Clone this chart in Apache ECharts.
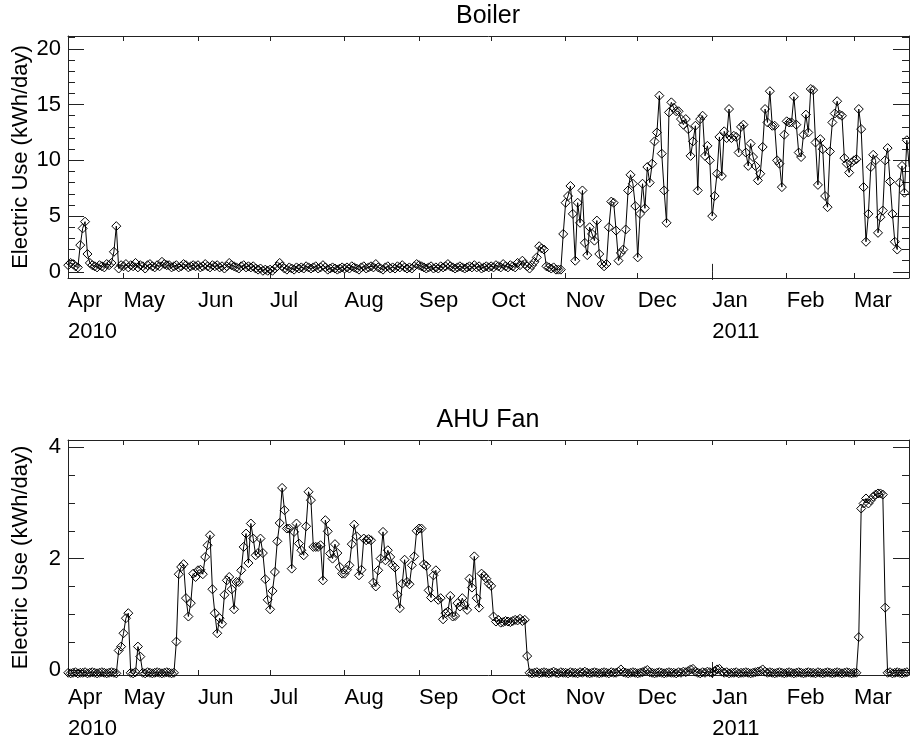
<!DOCTYPE html>
<html>
<head>
<meta charset="utf-8">
<title>Boiler / AHU Fan electric use</title>
<script src="https://cdn.jsdelivr.net/npm/echarts@6/dist/echarts.min.js"></script>
<style>
  html, body { margin: 0; padding: 0; background: #fff; }
  #chart { width: 910px; height: 740px; }
</style>
</head>
<body>
<div id="chart"></div>
<script>
// x is counted in days from 2010-04-01, first reading is 2010-04-08
const firstDay = 7
const xMin = 6.9
const xMax = 356.9
const monthStarts = [0, 30, 61, 91, 122, 153, 183, 214, 244, 275, 306, 334]
const monthNames = ['Apr', 'May', 'Jun', 'Jul', 'Aug', 'Sep', 'Oct', 'Nov', 'Dec', 'Jan', 'Feb', 'Mar']
const yearLabels = { Apr: '2010', Jan: '2011' }

const boilerTicks = [0, 5, 10, 15, 20]
const boilerMinor = [1, 2, 3, 4, 6, 7, 8, 9, 11, 12, 13, 14, 16, 17, 18, 19, 21]
const ahuTicks = [0, 2, 4]
const ahuMinor = [0.5, 1, 1.5, 2.5, 3, 3.5]

// Boiler, kWh/day
const boilerApr = [0.6, 0.8, 0.7, 0.5, 0.4, 2.4, 3.9, 4.5, 1.6, 0.8, 0.6, 0.5, 0.4, 0.6, 0.5, 0.4, 0.7, 0.6, 0.8, 1.8, 4.1, 0.3, 0.6]
const boilerMay = [0.5, 0.7, 0.4, 0.6, 0.5, 0.8, 0.4, 0.6, 0.5, 0.3, 0.6, 0.7, 0.5, 0.4, 0.6, 0.5, 0.9, 0.7, 0.6, 0.6, 0.4, 0.5, 0.6, 0.4, 0.5, 0.7, 0.6, 0.4, 0.5, 0.6, 0.5]
const boilerJun = [0.6, 0.4, 0.5, 0.7, 0.5, 0.4, 0.6, 0.5, 0.6, 0.4, 0.5, 0.3, 0.5, 0.8, 0.6, 0.5, 0.4, 0.3, 0.5, 0.6, 0.4, 0.5, 0.4, 0.5, 0.3, 0.2, 0.3, 0.1, 0.2, 0.1]
const boilerJul = [0.2, 0.1, 0.3, 0.5, 0.8, 0.5, 0.3, 0.2, 0.4, 0.3, 0.2, 0.4, 0.3, 0.4, 0.3, 0.5, 0.4, 0.3, 0.4, 0.5, 0.3, 0.4, 0.6, 0.4, 0.2, 0.3, 0.4, 0.3, 0.2, 0.3, 0.4]
const boilerAug = [0.3, 0.4, 0.3, 0.5, 0.4, 0.3, 0.2, 0.4, 0.5, 0.3, 0.4, 0.5, 0.4, 0.7, 0.4, 0.3, 0.2, 0.4, 0.5, 0.3, 0.4, 0.3, 0.5, 0.4, 0.6, 0.4, 0.3, 0.4, 0.3, 0.5, 0.7]
const boilerSep = [0.6, 0.5, 0.4, 0.3, 0.4, 0.5, 0.3, 0.4, 0.3, 0.5, 0.4, 0.5, 0.7, 0.5, 0.4, 0.3, 0.4, 0.5, 0.4, 0.3, 0.4, 0.5, 0.4, 0.6, 0.4, 0.5, 0.3, 0.4, 0.5, 0.4]
const boilerOct = [0.5, 0.4, 0.6, 0.5, 0.4, 0.7, 0.5, 0.4, 0.6, 0.5, 0.4, 0.8, 0.6, 1.0, 0.7, 0.5, 0.3, 0.6, 0.9, 1.3, 2.3, 2.1, 2.0, 0.5, 0.4, 0.3, 0.4, 0.2, 0.2, 0.2, 3.4]
const boilerNov = [6.2, 6.8, 7.7, 5.2, 1.0, 6.2, 4.4, 7.3, 2.6, 1.5, 4.0, 3.4, 2.8, 4.6, 1.6, 0.7, 0.5, 0.7, 4.0, 6.3, 6.2, 3.7, 1.0, 1.7, 2.0, 3.8, 7.3, 8.7, 7.9, 5.9]
const boilerDec = [1.3, 5.2, 7.9, 5.7, 9.4, 8.0, 9.7, 11.7, 12.5, 15.8, 10.6, 7.3, 4.4, 14.3, 15.2, 14.7, 14.4, 14.4, 13.7, 13.2, 13.7, 12.8, 10.4, 11.7, 13.1, 7.3, 13.7, 14.0, 10.4, 11.3, 10.0]
const boilerJan = [5.0, 6.8, 8.8, 12.1, 8.6, 12.6, 12.0, 14.6, 12.0, 12.2, 12.1, 10.7, 13.0, 13.2, 10.7, 9.5, 11.5, 10.3, 9.5, 8.2, 8.8, 11.2, 14.6, 13.4, 16.2, 13.1, 13.1, 10.0, 9.7, 7.6, 12.3]
const boilerFeb = [13.5, 13.4, 13.4, 15.7, 13.2, 10.7, 10.3, 12.3, 14.1, 12.5, 16.4, 16.3, 11.6, 7.8, 11.9, 11.0, 6.8, 5.8, 10.8, 13.4, 14.2, 15.3, 14.1, 14.0, 10.2, 9.7, 8.9, 9.8]
const boilerMar = [10.0, 10.1, 14.6, 12.8, 7.6, 2.7, 5.2, 9.4, 10.5, 10.0, 3.5, 4.9, 5.5, 10.0, 11.1, 8.1, 5.2, 2.7, 2.0, 8.0, 9.5, 7.1, 11.8, 9.4]

// AHU fan, kWh/day
const ahuApr = [-0.05, -0.06, -0.05, -0.04, -0.06, -0.05, -0.05, -0.04, -0.06, -0.05, -0.04, -0.05, -0.06, -0.05, -0.04, -0.05, -0.06, -0.05, -0.04, -0.05, -0.06, 0.35, 0.42]
const ahuMay = [0.66, 0.93, 1.02, -0.05, -0.06, -0.04, 0.42, 0.24, -0.05, -0.06, -0.04, -0.05, -0.06, -0.05, -0.04, -0.05, -0.06, -0.05, -0.04, -0.05, -0.06, -0.05, 0.51, 1.72, 1.85, 1.90, 1.29, 0.96, 1.20, 1.73, 1.67]
const ahuJun = [1.79, 1.80, 1.72, 2.03, 2.24, 2.42, 1.45, 1.02, 0.66, 0.93, 0.83, 1.35, 1.61, 1.67, 1.45, 1.09, 1.58, 1.58, 1.79, 2.21, 2.45, 1.92, 2.63, 2.36, 2.06, 2.10, 2.36, 2.10, 1.63, 1.26]
const ahuJul = [1.09, 1.42, 1.76, 2.31, 2.64, 3.27, 2.87, 2.54, 2.54, 1.82, 2.48, 2.63, 2.27, 2.15, 2.06, 2.58, 3.20, 3.05, 2.21, 2.21, 2.21, 2.24, 1.61, 2.69, 2.49, 2.09, 2.00, 2.26, 2.10, 1.85, 1.73]
const ahuAug = [1.73, 1.80, 1.88, 2.26, 2.61, 2.40, 1.70, 1.80, 2.36, 2.33, 2.35, 2.33, 1.57, 1.50, 1.79, 2.00, 2.48, 1.97, 2.15, 2.03, 1.88, 1.84, 1.35, 1.11, 1.55, 1.98, 1.58, 1.54, 1.88, 2.04, 2.50]
const ahuSep = [2.54, 2.54, 1.90, 1.87, 1.43, 1.30, 1.70, 1.79, 1.26, 1.29, 0.91, 1.02, 1.05, 1.33, 0.96, 0.97, 1.20, 1.14, 1.29, 1.17, 1.08, 1.64, 1.48, 2.04, 1.29, 1.12, 1.73, 1.69, 1.64, 1.55]
const ahuOct = [1.51, 0.96, 0.87, 0.90, 0.85, 0.86, 0.88, 0.87, 0.86, 0.88, 0.90, 0.89, 0.92, 0.88, 0.90, 0.25, -0.05, -0.06, -0.05, -0.04, -0.06, -0.05, -0.04, -0.05, -0.06, -0.05, -0.03, -0.05, -0.06, -0.04, -0.05]
const ahuNov = [-0.05, -0.06, -0.04, -0.05, -0.05, -0.06, -0.04, -0.05, -0.03, -0.05, -0.06, -0.05, -0.04, -0.05, -0.06, -0.05, -0.04, -0.05, -0.06, -0.04, -0.05, -0.05, -0.03, 0.01, -0.04, -0.05, -0.06, -0.05, -0.04, -0.05]
const ahuDec = [-0.06, -0.05, -0.04, -0.02, 0.00, -0.04, -0.05, -0.06, -0.05, -0.04, -0.05, -0.06, -0.05, -0.04, -0.05, -0.05, -0.06, -0.04, -0.05, -0.03, -0.04, -0.02, 0.01, 0.02, -0.03, -0.05, -0.06, -0.04, -0.05, -0.03, -0.04]
const ahuJan = [-0.05, -0.02, 0.01, 0.02, -0.03, -0.05, -0.04, -0.06, -0.05, -0.05, -0.04, -0.06, -0.05, -0.05, -0.04, -0.05, -0.06, -0.05, -0.04, -0.03, -0.02, 0.01, -0.03, -0.05, -0.04, -0.05, -0.06, -0.05, -0.04, -0.05, -0.06]
const ahuFeb = [-0.05, -0.04, -0.05, -0.06, -0.05, -0.04, -0.05, -0.06, -0.05, -0.04, -0.05, -0.05, -0.06, -0.04, -0.05, -0.06, -0.05, -0.04, -0.05, -0.06, -0.05, -0.04, -0.05, -0.06, -0.05, -0.04, -0.05, -0.06]
const ahuMar = [-0.05, -0.05, 0.59, 2.90, 2.99, 3.08, 2.99, 3.05, 3.11, 3.15, 3.17, 3.17, 3.15, 1.12, -0.05, -0.04, -0.06, -0.05, -0.04, -0.05, -0.06, -0.05, -0.04, -0.05]

const boilerDays = [boilerApr, boilerMay, boilerJun, boilerJul, boilerAug, boilerSep, boilerOct, boilerNov, boilerDec, boilerJan, boilerFeb, boilerMar]
const ahuDays = [ahuApr, ahuMay, ahuJun, ahuJul, ahuAug, ahuSep, ahuOct, ahuNov, ahuDec, ahuJan, ahuFeb, ahuMar]

const font = { fontFamily: 'Liberation Sans', fontSize: 22, color: '#000' }
const axisColor = { color: '#222', width: 1 }

function toPoints(months) {
  return [].concat(...months).map((v, i) => [firstDay + i, v])
}

function monthLabel(value) {
  let i = monthStarts.length - 1
  while (i > 0 && monthStarts[i] > value + 0.01) i--
  const name = monthNames[i]
  return yearLabels[name] ? `${name}\n${yearLabels[name]}` : name
}

// bottom axis with labels, top mirror, plus the longer year ticks
function xAxes(gridIndex) {
  const base = {
    type: 'value', gridIndex, min: xMin, max: xMax,
    axisLine: { show: true, onZero: false, lineStyle: axisColor },
    splitLine: { show: false }
  }
  const monthTicks = monthStarts.slice(1)
  const labelDays = [xMin].concat(monthTicks)
  return [
    Object.assign({}, base, {
      position: 'bottom',
      axisTick: { inside: true, length: 5, customValues: monthTicks, lineStyle: axisColor },
      axisLabel: Object.assign({ customValues: labelDays, formatter: monthLabel, align: 'left', margin: 7, lineHeight: 31, verticalAlign: 'top' }, font)
    }),
    Object.assign({}, base, {
      position: 'top',
      axisTick: { inside: true, length: 5, customValues: monthTicks, lineStyle: axisColor },
      axisLabel: { show: false }
    }),
    Object.assign({}, base, {
      position: 'bottom', axisLine: { show: false },
      axisTick: { inside: true, length: 8, customValues: [275], lineStyle: axisColor },
      axisLabel: { show: false }
    }),
    Object.assign({}, base, {
      position: 'top', axisLine: { show: false },
      axisTick: { inside: true, length: 8, customValues: [275], lineStyle: axisColor },
      axisLabel: { show: false }
    })
  ]
}

// left axis with labels and name, right mirror; minor ticks on their own axes
function yAxes(gridIndex, min, max, majors, minors) {
  const base = {
    type: 'value', gridIndex, min, max,
    axisLine: { show: true, onZero: false, lineStyle: axisColor },
    splitLine: { show: false }
  }
  const major = { inside: true, length: 16, customValues: majors, lineStyle: axisColor }
  const minor = { inside: true, length: 7, customValues: minors, lineStyle: axisColor }
  return [
    Object.assign({}, base, {
      position: 'left',
      name: 'Electric Use (kWh/day)', nameLocation: 'middle', nameGap: 36, nameRotate: 90,
      nameMoveOverlap: false,
      nameTextStyle: font,
      axisTick: major,
      axisLabel: Object.assign({ customValues: majors, margin: 7 }, font)
    }),
    Object.assign({}, base, { position: 'left', axisLine: { show: false }, axisTick: minor, axisLabel: { show: false } }),
    Object.assign({}, base, { position: 'right', axisTick: major, axisLabel: { show: false } }),
    Object.assign({}, base, { position: 'right', axisLine: { show: false }, axisTick: minor, axisLabel: { show: false } })
  ]
}

function dailySeries(months, axisIndex) {
  return {
    type: 'line',
    xAxisIndex: axisIndex,
    yAxisIndex: axisIndex,
    data: toPoints(months),
    symbol: 'diamond',
    symbolSize: 9,
    showAllSymbol: true,
    clip: true,
    silent: true,
    lineStyle: { color: '#000', width: 1 },
    itemStyle: { color: 'rgba(0,0,0,0)', borderColor: '#000', borderWidth: 1 },
    emphasis: { disabled: true }
  }
}

const chart = echarts.init(document.getElementById('chart'), null, { renderer: 'canvas' })
chart.setOption({
  animation: false,
  backgroundColor: '#fff',
  textStyle: { fontFamily: 'Liberation Sans', color: '#000' },
  title: [
    { text: 'Boiler', left: 488, top: 4, padding: 0, textAlign: 'center', textStyle: { fontFamily: 'Liberation Sans', fontSize: 25, fontWeight: 'normal', color: '#000' } },
    { text: 'AHU Fan', left: 488, top: 408, padding: 0, textAlign: 'center', textStyle: { fontFamily: 'Liberation Sans', fontSize: 25, fontWeight: 'normal', color: '#000' } }
  ],
  grid: [
    { left: 68, right: 1, top: 36, height: 242, outerBoundsMode: 'none' },
    { left: 68, right: 1, top: 440, height: 235, outerBoundsMode: 'none' }
  ],
  xAxis: xAxes(0).concat(xAxes(1)),
  yAxis: yAxes(0, -0.55, 21.15, boilerTicks, boilerMinor).concat(yAxes(1, -0.09, 4.13, ahuTicks, ahuMinor)),
  series: [
    dailySeries(boilerDays, 0),
    dailySeries(ahuDays, 4)
  ]
})
</script>
</body>
</html>
